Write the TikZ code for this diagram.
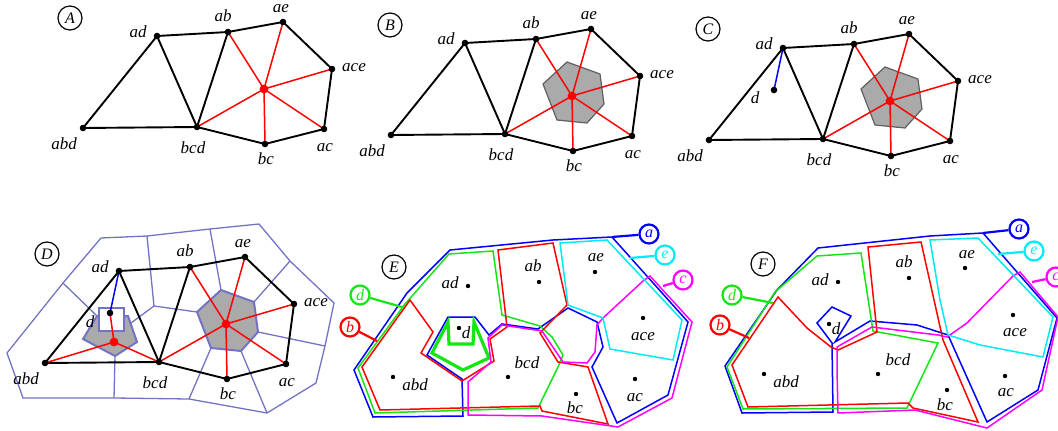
\documentclass[tikz,border=0pt]{standalone}
\usepackage{fontspec}
\setmainfont{Liberation Serif}
\definecolor{vorc}{RGB}{115,115,196}
\definecolor{hexf}{RGB}{170,170,170}
\definecolor{hexe}{RGB}{95,95,95}
\definecolor{colB}{RGB}{0,0,255}
\definecolor{colG}{RGB}{20,230,20}
\definecolor{colR}{RGB}{255,0,0}
\definecolor{colM}{RGB}{255,0,255}
\definecolor{colC}{RGB}{0,235,245}
\tikzset{
 lbl/.style={font=\fontsize{17}{19}\selectfont\itshape, inner sep=0pt},
 edge/.style={line width=1.9pt, black},
 rededge/.style={line width=1.5pt, colR},
 vor/.style={line width=1.3pt, vorc},
 hexbox/.style={fill=hexf, draw=hexe, line width=1.2pt},
 panelc/.style={circle, draw, line width=1.2pt, minimum size=24pt, inner sep=0pt, font=\fontsize{16}{18}\selectfont\itshape},
 leg/.style={circle, draw, line width=2.2pt, minimum size=19pt, inner sep=0pt, font=\fontsize{16}{18}\selectfont\itshape},
 cpath/.style={line width=1.5pt},
 legline/.style={line width=2.2pt},
}
\newcommand\mybase{%
 \coordinate (ad) at (157,36);
 \coordinate (ab) at (228,32);
 \coordinate (ae) at (283,22);
 \coordinate (ace) at (332,69);
 \coordinate (ac) at (324,129);
 \coordinate (bc) at (265,144);
 \coordinate (bcd) at (197,127);
 \coordinate (abd) at (83,128);
 \coordinate (ctr) at (264,89);
 \coordinate (d) at (148,78);
 \coordinate (h1) at (235,77);
 \coordinate (h2) at (259,55);
 \coordinate (h3) at (292,67);
 \coordinate (h4) at (296,97);
 \coordinate (h5) at (279,116);
 \coordinate (h6) at (249,113);
}
\newcommand\myedges{%
 \draw[edge] (abd)--(ad)--(bcd)--cycle;
 \draw[edge] (ad)--(ab)--(bcd);
 \draw[edge] (ab)--(ae)--(ace)--(ac)--(bc)--(bcd);
}
\newcommand\myred{%
 \foreach \t in {ab,ae,ace,ac,bc,bcd} \draw[rededge] (ctr)--(\t);
}
\newcommand\mydots{%
 \foreach \t in {ad,ab,ae,ace,ac,bc,bcd,abd} \fill (\t) circle (3.3);
}
\newcommand\mylabels{%
 \node[lbl] (lad) at (138,32) {ad};
 \node[lbl] (lab) at (223,16) {ab};
 \node[lbl] (lae) at (281,9) {ae};
 \node[lbl] (lace) at (354,68) {ace};
 \node[lbl] (lac) at (325,148) {ac};
 \node[lbl] (lbc) at (266,159) {bc};
 \node[lbl] (lbcd) at (193,148) {bcd};
 \node[lbl] (labd) at (64,144) {abd};
}
\newcommand\myhex[1]{%
 \draw[#1] (h1)--(h2)--(h3)--(h4)--(h5)--(h6)--cycle;
}
\begin{document}
\begin{tikzpicture}[x=1pt,y=-1pt]
\useasboundingbox (0,0) rectangle (1058,431);

% ---------- Panel A
\node[panelc] (pA) at (70,18) {A};
\begin{scope}[name prefix=A-]
 \mybase
 \myedges
 \myred
 \mydots
 \fill[colR] (ctr) circle (4.4);
 \mylabels
\end{scope}

% ---------- Panel B
\node[panelc] (pB) at (390,25) {B};
\begin{scope}[shift={(308,7)}, name prefix=B-]
 \mybase
 \myhex{hexbox}
 \myedges
 \myred
 \mydots
 \fill[colR] (ctr) circle (4.4);
 \mylabels
\end{scope}

% ---------- Panel C
\node[panelc] (pC) at (708,29) {C};
\begin{scope}[shift={(626,12)}, name prefix=C-]
 \mybase
 \myhex{hexbox}
 \myedges
 \myred
 \draw[line width=1.5pt, colB] (ad)--(d);
 \mydots
 \fill (d) circle (3.3);
 \fill[colR] (ctr) circle (4.4);
 \mylabels
 \node[lbl] (ld) at (129,86) {d};
\end{scope}

% ---------- Panel D
\node[panelc] (pD) at (47,254) {D};
\draw[vor] (7,353)--(23,398)--(114,398)--(189,399)--(267,413)--(316,383)--(325,346)--(334,303)--(290,261)--(259,224)--(210,229)--(147,236)--(101,238)--(63,283)--cycle;
\draw[vor] (63,283)--(97,316);
\draw[vor] (147,236)--(154,306)--(197,312);
\draw[vor] (154,306)--(131,323);
\draw[vor] (210,229)--(221,290);
\draw[vor] (290,261)--(254,302);
\draw[vor] (325,346)--(258,332);
\draw[vor] (267,413)--(241,351);
\draw[vor] (189,399)--(211,348);
\draw[vor] (114,398)--(115,356);
\begin{scope}[shift={(-38,235)}, name prefix=D-]
 \mybase
 \coordinate (ctrb) at (152,107);
 \myhex{fill=hexf, draw=vorc, line width=2pt}
 \draw[fill=hexf, draw=vorc, line width=2pt] (121,104)--(135,81)--(166,81)--(175,107)--(153,121)--cycle;
 \node[lbl] (ld) at (128,87) {d};
 \draw[fill=white, draw=vorc, line width=1.8pt] (137,73) rectangle (162,96);
 \myedges
 \myred
 \foreach \t in {abd,bcd,d} \draw[rededge] (ctrb)--(\t);
 \draw[line width=1.5pt, colB] (ad)--(d);
 \mydots
 \fill (d) circle (3.3);
 \fill[colR] (ctr) circle (4.4);
 \fill[colR] (ctrb) circle (4.4);
 \mylabels
\end{scope}

% ---------- Panel E
\node[panelc] (pE) at (394,267) {E};
\draw[cpath, colB] (612,237)--(553,240)--(450,250)--(407,293)--(354,370)--(373,417)--(463,416)--(462,379)--(427,355)--(448,317)--(475,317)--(489,335)--(502,324)--(538,329)--(568,308)--(597,322)--(603,347)--(592,367)--(617,423)--(668,395)--(688,322)--cycle;
\draw[cpath, colG] (449,254)--(493,251)--(502,315)--(540,326)--(552,337)--(563,355)--(558,367)--(538,408)--(375,413)--(358,368)--(405,304)--cycle;
\draw[line width=3.2pt, colG] (448,322)--(449,344)--(473,344)--(474,322)--(489,358)--(463,370)--(432,353)--cycle;
\draw[cpath, colR] (410,300)--(433,332)--(421,353)--(462,381)--(494,361)--(490,339)--(507,327)--(498,250)--(553,243)--(567,305)--(540,333)--(558,362)--(588,367)--(608,424)--(542,411)--(540,406)--(380,410)--(362,367)--cycle;
\draw[cpath, colM] (468,415)--(468,382)--(491,362)--(488,338)--(502,325)--(542,331)--(563,362)--(587,363)--(595,352)--(597,325)--(603,318)--(643,281)--(650,276)--(692,322)--(672,398)--(618,427)--(542,416)--cycle;
\draw[cpath, colC] (560,243)--(607,240)--(682,320)--(673,360)--(610,349)--(603,318)--(568,305)--cycle;
\node[leg, colB] (Ea) at (649,234) {a};
\node[leg, colC] (Ee) at (665,255) {e};
\node[leg, colM] (Ec) at (683,280) {c};
\node[leg, colG] (Ed) at (360,295) {d};
\node[leg, colR] (Eb) at (350,327) {b};
\coordinate (Eaj) at (612,237);
\coordinate (Eej) at (630,258);
\coordinate (Ecj) at (663,286);
\coordinate (Edj) at (402,307);
\coordinate (Ebj) at (377,341);
\draw[legline, colB] (Eaj)--(Ea);
\draw[legline, colC] (Eej)--(Ee);
\draw[legline, colM] (Ecj)--(Ec);
\draw[legline, colG] (Edj)--(Ed);
\draw[legline, colR] (Ebj)--(Eb);
\foreach \n/\px/\py/\qx/\qy in {ad/468/286/450/283, ab/539/282/533/266, ae/595/272/596/258, ace/643/318/643/337, ac/635/379/635/398, bc/576/394/575/408, bcd/508/377/527/363, abd/393/377/415/385, d/459/328/466/333}{
 \coordinate (E-\n) at (\px,\py);
 \fill (E-\n) circle (2.2);
 \node[lbl] (E-l\n) at (\qx,\qy) {\n};
}

% ---------- Panel F
\node[panelc] (pF) at (763,264) {F};
\draw[cpath, colB] (983,233)--(930,236)--(818,248)--(777,290)--(725,366)--(742,413)--(833,412)--(832,343)--(817,323)--(832,307)--(851,316)--(835,342)--(870,321)--(917,325)--(948,335)--(987,422)--(1038,390)--(1057,318)--cycle;
\draw[cpath, colG] (861,253)--(817,256)--(775,292)--(727,367)--(743,409)--(907,408)--(938,343)--(873,331)--cycle;
\draw[cpath, colR] (778,297)--(807,328)--(831,347)--(838,350)--(877,332)--(868,247)--(921,242)--(943,340)--(978,422)--(913,408)--(908,403)--(748,407)--(732,365)--cycle;
\draw[cpath, colM] (838,413)--(837,370)--(837,347)--(872,327)--(938,335)--(947,337)--(967,323)--(1013,276)--(1020,272)--(1058,317)--(1042,390)--(987,428)--(915,410)--cycle;
\draw[cpath, colC] (930,240)--(978,238)--(1053,317)--(1043,357)--(980,345)--(948,335)--(940,300)--cycle;
\node[leg, colB] (Fa) at (1019,229) {a};
\node[leg, colC] (Fe) at (1034,251) {e};
\node[leg, colM] (Fc) at (1056,277) {c};
\node[leg, colG] (Fd) at (732,295) {d};
\node[leg, colR] (Fb) at (720,325) {b};
\coordinate (Faj) at (983,233);
\coordinate (Fej) at (998,254);
\coordinate (Fcj) at (1032,282);
\coordinate (Fdj) at (773,303);
\coordinate (Fbj) at (749,338);
\draw[legline, colB] (Faj)--(Fa);
\draw[legline, colC] (Fej)--(Fe);
\draw[legline, colM] (Fcj)--(Fc);
\draw[legline, colG] (Fdj)--(Fd);
\draw[legline, colR] (Fbj)--(Fb);
\foreach \n/\px/\py/\qx/\qy in {ad/838/282/820/280, ab/909/278/904/262, ae/965/268/967/255, ace/1013/315/1015/333, ac/1005/376/1006/393, bc/947/390/945/405, bcd/878/374/898/360, abd/764/374/786/382, d/829/324/836/329}{
 \coordinate (F-\n) at (\px,\py);
 \fill (F-\n) circle (2.2);
 \node[lbl] (F-l\n) at (\qx,\qy) {\n};
}
\end{tikzpicture}
\end{document}
